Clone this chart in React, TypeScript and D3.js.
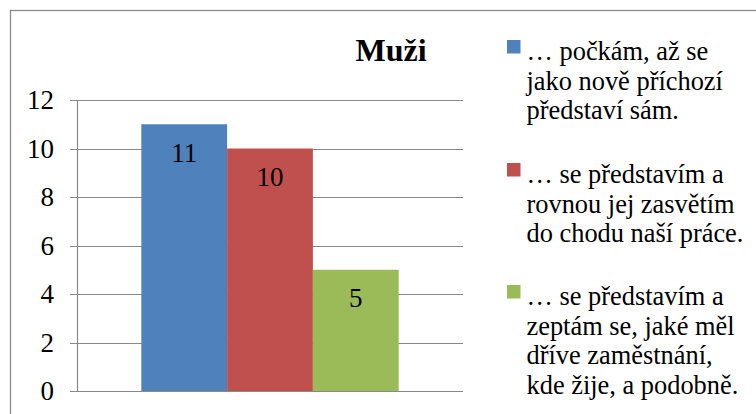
import React from "react";
import * as d3 from "d3";

const title = "Muži";
const seriesNames = [
  "… počkám, až se jako nově příchozí představí sám.",
  "… se představím a rovnou jej zasvětím do chodu naší práce.",
  "… se představím a zeptám se, jaké měl dříve zaměstnání, kde žije, a podobně.",
];
const legendLines = [
  ["… počkám, až se", "jako nově příchozí", "představí sám."],
  ["… se představím a", "rovnou jej zasvětím", "do chodu naší práce."],
  ["… se představím a", "zeptám se, jaké měl", "dříve zaměstnání,", "kde žije, a podobně."],
];
const values = [11, 10, 5];
const colors = ["#4F81BD", "#C0504D", "#9BBB59"];
const yTicks = [0, 2, 4, 6, 8, 10, 12];

const W = 756;
const H = 414;
const FONT = "Liberation Serif, Tinos, DejaVu Serif, serif";

export default function App() {
  const plotLeft = 77;
  const plotRight = 463;
  const plotTop = 100;
  const plotBottom = 391;

  const y = d3.scaleLinear().domain([0, 12]).range([plotBottom, plotTop]);
  const barW = (plotRight - plotLeft) / (values.length + 1.5);
  const x = d3
    .scaleBand<number>()
    .domain(values.map((_, i) => i))
    .range([plotLeft + 0.75 * barW, plotRight - 0.75 * barW])
    .padding(0);

  const gridColor = "#898989";
  const legendX = 507;
  const legendTops = [40, 163, 285];
  const lineH = 29.7;
  const txt = { fontFamily: FONT };

  return (
    <svg
      width={W}
      height={H}
      style={{ position: "absolute", left: 0, top: 0, background: "#fff" }}
    >
      <rect x={0} y={0} width={W} height={H} fill="#fff" />
      <rect
        x={10.5}
        y={10.5}
        width={W + 20}
        height={H + 20}
        fill="none"
        stroke="#8a8a8a"
        strokeWidth={1.3}
      />
      {yTicks.map((t) => (
        <line
          key={"g" + t}
          x1={70}
          x2={plotRight}
          y1={Math.round(y(t)) + 0.5}
          y2={Math.round(y(t)) + 0.5}
          stroke={gridColor}
          strokeWidth={1.2}
        />
      ))}
      <line
        x1={plotLeft + 0.5}
        x2={plotLeft + 0.5}
        y1={y(12)}
        y2={y(0)}
        stroke={gridColor}
        strokeWidth={1.2}
      />
      {yTicks.map((t) => (
        <text key={"t" + t} x={54} y={y(t) + 9} textAnchor="end" fontSize={27} fill="#000" style={txt}>
          {t}
        </text>
      ))}
      {values.map((v, i) => (
        <rect
          key={"b" + i}
          x={x(i)}
          y={y(v)}
          width={x.bandwidth()}
          height={y(0) - y(v)}
          fill={colors[i]}
        />
      ))}
      {values.map((v, i) => (
        <text
          key={"l" + i}
          x={(x(i) as number) + x.bandwidth() / 2}
          y={y(v) + 37.5}
          textAnchor="middle"
          fontSize={27}
          fill="#000"
          style={txt}
        >
          {v}
        </text>
      ))}
      <text x={391} y={61} textAnchor="middle" fontSize={32} fontWeight="bold" fill="#000" style={txt}>
        {title}
      </text>
      {legendLines.map((lines, i) => (
        <g key={"lg" + i}>
          <title>{seriesNames[i]}</title>
          <rect x={legendX} y={legendTops[i]} width={13.5} height={13.5} fill={colors[i]} />
          {lines.map((ln, j) => (
            <text
              key={j}
              x={526.5}
              y={legendTops[i] + 20 + j * lineH}
              fontSize={26.4}
              fill="#000"
              style={txt}
            >
              {ln}
            </text>
          ))}
        </g>
      ))}
    </svg>
  );
}
